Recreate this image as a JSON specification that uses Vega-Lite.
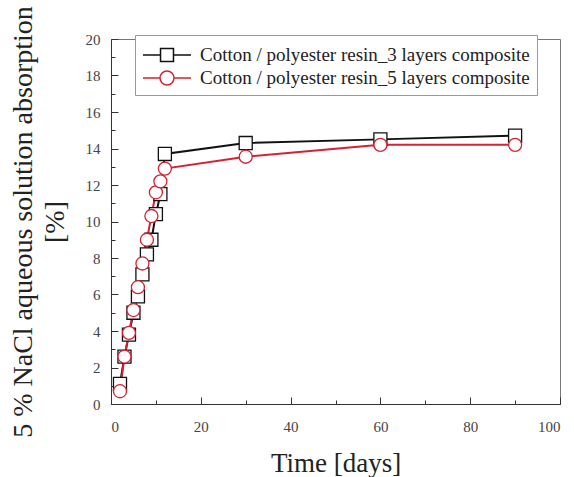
{
  "$schema": "https://vega.github.io/schema/vega-lite/v6.json",
  "autosize": "none",
  "width": 449,
  "height": 365,
  "padding": {"left": 111, "top": 39, "right": 14, "bottom": 73},
  "background": "white",
  "config": {
    "font": "Liberation Serif",
    "view": {"stroke": "#777", "strokeWidth": 1},
    "style": {"guide-label": {"font": "Liberation Serif"}},
    "axis": {
      "domainColor": "#333",
      "tickColor": "#333",
      "labelColor": "#444",
      "labelFontSize": 15,
      "titleFont": "Liberation Serif",
      "titleFontWeight": "normal",
      "titleColor": "#222",
      "grid": false
    }
  },
  "data": {
    "values": [
      {"day": 2, "value": 1.1, "series": "Cotton / polyester resin_3 layers composite"},
      {"day": 3, "value": 2.6, "series": "Cotton / polyester resin_3 layers composite"},
      {"day": 4, "value": 3.8, "series": "Cotton / polyester resin_3 layers composite"},
      {"day": 5, "value": 5.0, "series": "Cotton / polyester resin_3 layers composite"},
      {"day": 6, "value": 5.9, "series": "Cotton / polyester resin_3 layers composite"},
      {"day": 7, "value": 7.1, "series": "Cotton / polyester resin_3 layers composite"},
      {"day": 8, "value": 8.2, "series": "Cotton / polyester resin_3 layers composite"},
      {"day": 9, "value": 9.0, "series": "Cotton / polyester resin_3 layers composite"},
      {"day": 10, "value": 10.4, "series": "Cotton / polyester resin_3 layers composite"},
      {"day": 11, "value": 11.5, "series": "Cotton / polyester resin_3 layers composite"},
      {"day": 12, "value": 13.7, "series": "Cotton / polyester resin_3 layers composite"},
      {"day": 30, "value": 14.3, "series": "Cotton / polyester resin_3 layers composite"},
      {"day": 60, "value": 14.5, "series": "Cotton / polyester resin_3 layers composite"},
      {"day": 90, "value": 14.7, "series": "Cotton / polyester resin_3 layers composite"},
      {"day": 2, "value": 0.7, "series": "Cotton / polyester resin_5 layers composite"},
      {"day": 3, "value": 2.6, "series": "Cotton / polyester resin_5 layers composite"},
      {"day": 4, "value": 3.9, "series": "Cotton / polyester resin_5 layers composite"},
      {"day": 5, "value": 5.15, "series": "Cotton / polyester resin_5 layers composite"},
      {"day": 6, "value": 6.4, "series": "Cotton / polyester resin_5 layers composite"},
      {"day": 7, "value": 7.7, "series": "Cotton / polyester resin_5 layers composite"},
      {"day": 8, "value": 9.0, "series": "Cotton / polyester resin_5 layers composite"},
      {"day": 9, "value": 10.3, "series": "Cotton / polyester resin_5 layers composite"},
      {"day": 10, "value": 11.6, "series": "Cotton / polyester resin_5 layers composite"},
      {"day": 11, "value": 12.2, "series": "Cotton / polyester resin_5 layers composite"},
      {"day": 12, "value": 12.9, "series": "Cotton / polyester resin_5 layers composite"},
      {"day": 30, "value": 13.55, "series": "Cotton / polyester resin_5 layers composite"},
      {"day": 60, "value": 14.2, "series": "Cotton / polyester resin_5 layers composite"},
      {"day": 90, "value": 14.2, "series": "Cotton / polyester resin_5 layers composite"}
    ]
  },
  "encoding": {
    "x": {
      "field": "day",
      "type": "quantitative",
      "scale": {"domain": [0, 100], "nice": false, "zero": false},
      "axis": {
        "title": "Time [days]",
        "titleFontSize": 27,
        "titlePadding": 13,
        "values": [0, 10, 20, 30, 40, 50, 60, 70, 80, 90, 100],
        "labelExpr": "datum.value % 20 === 0 ? datum.label : ''",
        "tickSize": {"condition": {"test": "datum.value % 20 === 0", "value": -7}, "value": -4},
        "labelPadding": 22,
        "labelFont": "Liberation Serif",
        "labelOverlap": false
      }
    },
    "y": {
      "field": "value",
      "type": "quantitative",
      "scale": {"domain": [0, 20], "nice": false},
      "axis": {
        "title": ["5 % NaCl aqueous solution absorption", "[%]"],
        "titleFontSize": 28,
        "titleLineHeight": 32,
        "titlePadding": 16,
        "values": [0, 1, 2, 3, 4, 5, 6, 7, 8, 9, 10, 11, 12, 13, 14, 15, 16, 17, 18, 19, 20],
        "labelExpr": "datum.value % 2 === 0 ? datum.label : ''",
        "tickSize": {"condition": {"test": "datum.value % 2 === 0", "value": -7}, "value": -4},
        "labelPadding": 18,
        "labelFont": "Liberation Serif",
        "labelOverlap": false
      }
    },
    "color": {
      "field": "series",
      "type": "nominal",
      "scale": {
        "domain": ["Cotton / polyester resin_3 layers composite", "Cotton / polyester resin_5 layers composite"],
        "range": ["#111111", "#d42233"]
      },
      "legend": {
        "orient": "none",
        "legendX": 24,
        "legendY": -4,
        "title": null,
        "strokeColor": "#999",
        "fillColor": "white",
        "padding": 7,
        "labelFont": "Liberation Serif",
        "labelFontSize": 19,
        "labelColor": "#222",
        "labelLimit": 0,
        "symbolSize": 576,
        "symbolOffset": 12,
        "labelOffset": 20,
        "symbolOpacity": 1,
        "symbolFillColor": "white",
        "symbolStrokeWidth": 1.5,
        "rowPadding": 0
      }
    }
  },
  "layer": [
    {"mark": {"type": "line", "strokeWidth": 2}},
    {
      "mark": {"type": "point", "opacity": 0},
      "encoding": {
        "shape": {
          "field": "series",
          "type": "nominal",
          "scale": {
            "domain": ["Cotton / polyester resin_3 layers composite", "Cotton / polyester resin_5 layers composite"],
            "range": ["M-2,0H-0.54M0.54,0H2M-0.54,-0.54H0.54V0.54H-0.54Z", "M-2,0H-0.58M0.58,0H2M-0.58,0A0.58,0.58,0,1,0,0.58,0A0.58,0.58,0,1,0,-0.58,0Z"]
          },
          "legend": {"title": null}
        }
      }
    },
    {
      "transform": [{"filter": "datum.series === 'Cotton / polyester resin_3 layers composite'"}],
      "mark": {"type": "point", "shape": "square", "filled": false, "fill": "white", "fillOpacity": 1, "opacity": 1, "stroke": "#111111", "strokeWidth": 1.3, "size": 170}
    },
    {
      "transform": [{"filter": "datum.series === 'Cotton / polyester resin_5 layers composite'"}],
      "mark": {"type": "point", "shape": "circle", "filled": false, "fill": "white", "fillOpacity": 1, "opacity": 1, "stroke": "#d42233", "strokeWidth": 1.3, "size": 170}
    }
  ]
}
